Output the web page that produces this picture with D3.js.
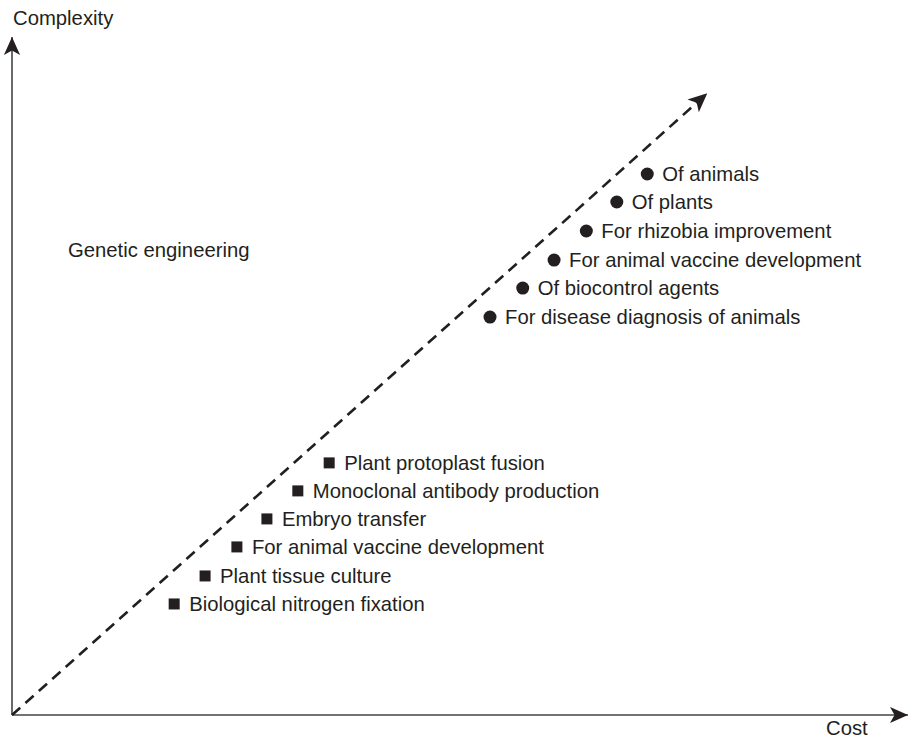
<!DOCTYPE html>
<html><head><meta charset="utf-8">
<script src="https://cdn.jsdelivr.net/npm/d3@7"></script>
<style>body{margin:0;background:#fff}svg{display:block}text{font-family:"Liberation Sans",Arial,sans-serif;fill:#231f20}</style>
</head><body><svg id="c" width="910" height="739"></svg>
<script>
const circleLabels = ["Of animals","Of plants","For rhizobia improvement","For animal vaccine development","Of biocontrol agents","For disease diagnosis of animals"];
const circleCost = [70.9,67.5,64.1,60.5,57.0,53.35];
const circleComplexity = [80.15,76.0,71.7,67.4,63.25,58.95];
const squareLabels = ["Plant protoplast fusion","Monoclonal antibody production","Embryo transfer","For animal vaccine development","Plant tissue culture","Biological nitrogen fixation"];
const squareCost = [35.4,31.9,28.45,25.1,21.55,18.1];
const squareComplexity = [37.35,33.2,29.05,24.9,20.6,16.45];
const trendEnd = [77.6,92.1];
const axisLabels = {x:"Cost", y:"Complexity"};
const groupLabel = "Genetic engineering";

const svg = d3.select("#c");
const x = d3.scaleLinear().domain([0,100]).range([12,908]);
const y = d3.scaleLinear().domain([0,100]).range([715,40]);
const ink = "#231f20";
const fs = 20.3;

const defs = svg.append("defs");
defs.append("marker").attr("id","ah").attr("viewBox","0 0 10 10").attr("refX",10).attr("refY",5)
  .attr("markerWidth",19).attr("markerHeight",19).attr("markerUnits","userSpaceOnUse").attr("orient","auto")
  .append("path").attr("d","M0,0.5 L10,5 L0,9.5 L2.5,5 Z").attr("fill",ink);
defs.append("marker").attr("id","ah2").attr("viewBox","0 0 10 10").attr("refX",10).attr("refY",5)
  .attr("markerWidth",18).attr("markerHeight",18).attr("markerUnits","userSpaceOnUse").attr("orient","auto")
  .append("path").attr("d","M0,0.5 L10,5 L0,9.5 L2.5,5 Z").attr("fill",ink);

// axes
svg.append("line").attr("x1",x(0)).attr("y1",y(0)).attr("x2",x(0)).attr("y2",y(100)-3)
  .attr("stroke","#444").attr("stroke-width",1.6).attr("marker-end","url(#ah2)");
svg.append("line").attr("x1",x(0)).attr("y1",y(0)).attr("x2",x(100)).attr("y2",y(0))
  .attr("stroke","#444").attr("stroke-width",1.6).attr("marker-end","url(#ah2)");

// dashed trend
svg.append("line").attr("x1",x(0)).attr("y1",y(0)).attr("x2",x(trendEnd[0])).attr("y2",y(trendEnd[1]))
  .attr("stroke",ink).attr("stroke-width",2.6).attr("stroke-dasharray","11,7").attr("marker-end","url(#ah)");

svg.append("text").attr("x",13).attr("y",25).attr("font-size",fs).text(axisLabels.y);
svg.append("text").attr("x",826).attr("y",735).attr("font-size",fs).text(axisLabels.x);
svg.append("text").attr("x",68).attr("y",257).attr("font-size",fs).text(groupLabel);

const circ = circleLabels.map((l,i)=>({l,c:circleCost[i],v:circleComplexity[i]}));
const sq = squareLabels.map((l,i)=>({l,c:squareCost[i],v:squareComplexity[i]}));

const cg = svg.append("g").selectAll("g").data(circ).join("g")
  .attr("transform",d=>`translate(${x(d.c)},${y(d.v)})`);
cg.append("circle").attr("r",6.5).attr("fill",ink);
cg.append("text").attr("x",15).attr("y",7).attr("font-size",fs).text(d=>d.l);

const sg = svg.append("g").selectAll("g").data(sq).join("g")
  .attr("transform",d=>`translate(${x(d.c)},${y(d.v)})`);
sg.append("rect").attr("x",-5.5).attr("y",-5.5).attr("width",11).attr("height",11).attr("fill",ink);
sg.append("text").attr("x",15).attr("y",7).attr("font-size",fs).text(d=>d.l);
</script></body></html>
